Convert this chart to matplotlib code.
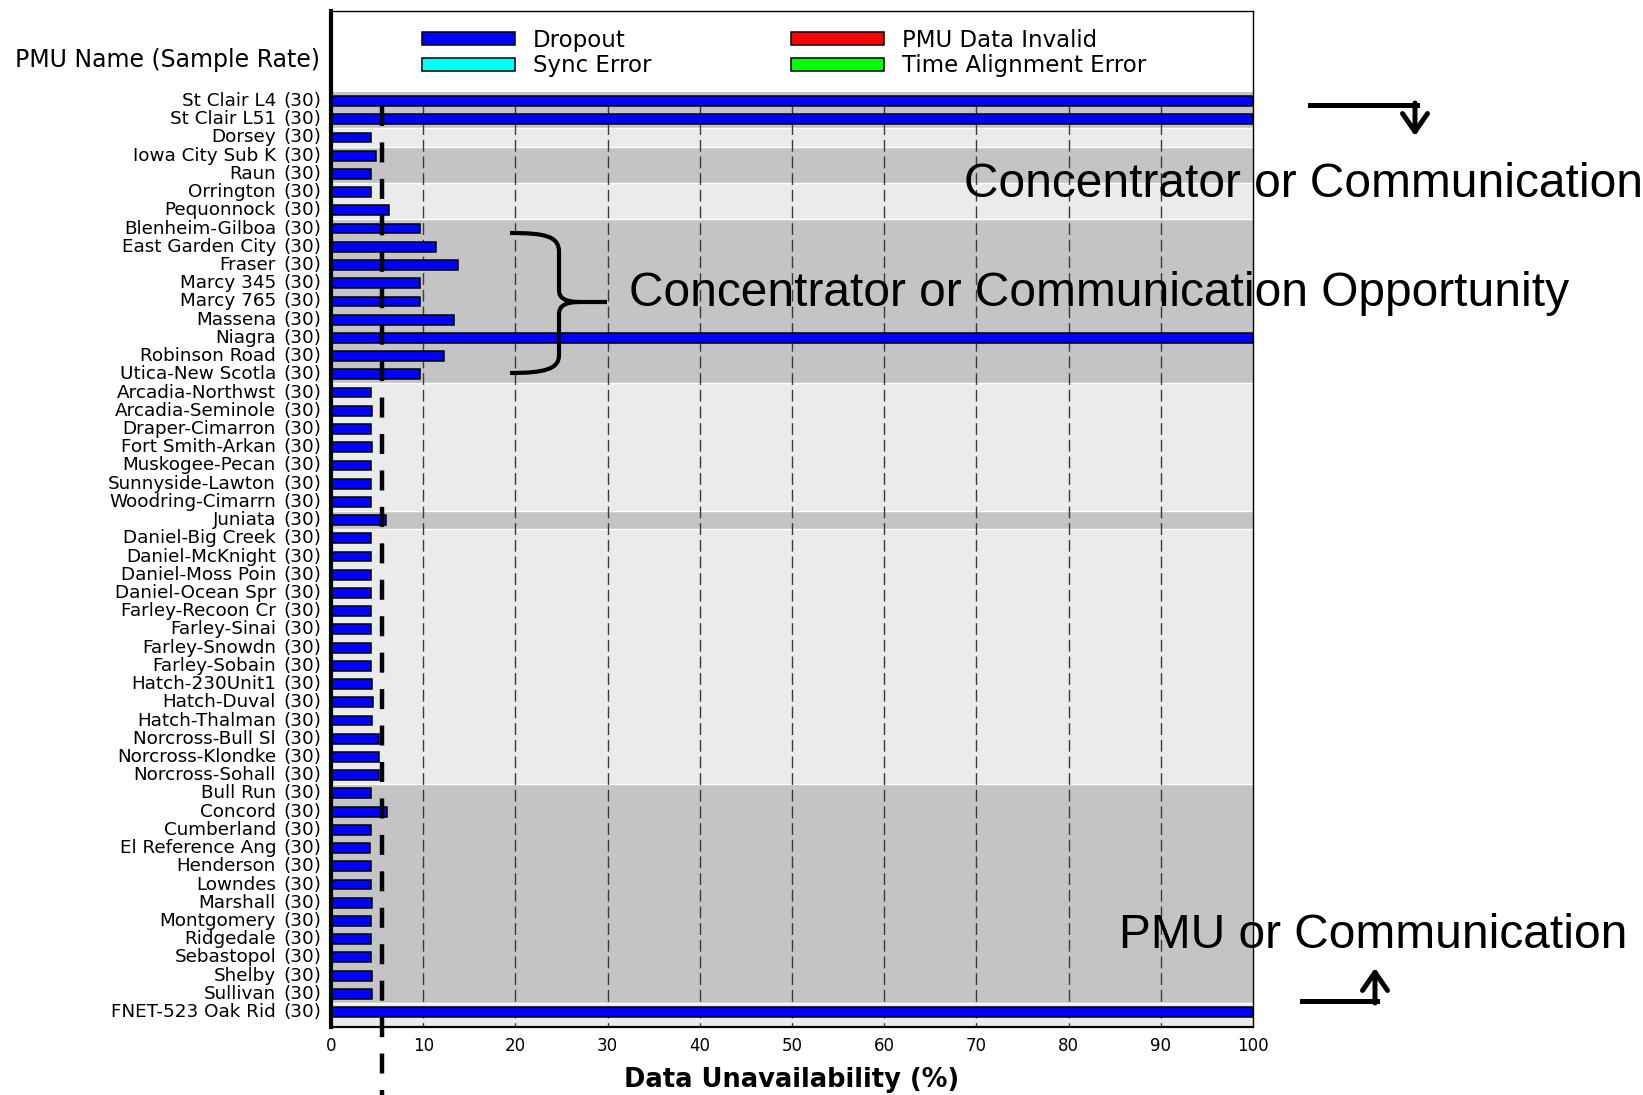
import matplotlib
matplotlib.use("Agg")
import matplotlib.pyplot as plt
import numpy as np
from matplotlib import transforms
from matplotlib.patches import Patch, PathPatch, FancyArrowPatch
from matplotlib.path import Path
from matplotlib.lines import Line2D

W, H = 1643, 1095

names = [
    "St Clair L4", "St Clair L51", "Dorsey", "Iowa City Sub K", "Raun",
    "Orrington", "Pequonnock", "Blenheim-Gilboa", "East Garden City", "Fraser",
    "Marcy 345", "Marcy 765", "Massena", "Niagra", "Robinson Road",
    "Utica-New Scotla", "Arcadia-Northwst", "Arcadia-Seminole", "Draper-Cimarron",
    "Fort Smith-Arkan", "Muskogee-Pecan", "Sunnyside-Lawton", "Woodring-Cimarrn",
    "Juniata", "Daniel-Big Creek", "Daniel-McKnight", "Daniel-Moss Poin",
    "Daniel-Ocean Spr", "Farley-Recoon Cr", "Farley-Sinai", "Farley-Snowdn",
    "Farley-Sobain", "Hatch-230Unit1", "Hatch-Duval", "Hatch-Thalman",
    "Norcross-Bull Sl", "Norcross-Klondke", "Norcross-Sohall", "Bull Run",
    "Concord", "Cumberland", "El Reference Ang", "Henderson", "Lowndes",
    "Marshall", "Montgomery", "Ridgedale", "Sebastopol", "Shelby", "Sullivan",
    "FNET-523 Oak Rid",
]
sample_rate = [30] * len(names)
dropout = [
    100, 100, 4.3, 4.9, 4.3, 4.3, 6.3, 9.6, 11.4, 13.8,
    9.6, 9.6, 13.3, 100, 12.3, 9.6, 4.3, 4.4, 4.3, 4.4,
    4.3, 4.3, 4.3, 6.0, 4.3, 4.3, 4.3, 4.3, 4.3, 4.3,
    4.3, 4.3, 4.4, 4.6, 4.4, 5.2, 5.2, 5.2, 4.3, 6.1,
    4.3, 4.2, 4.3, 4.3, 4.4, 4.3, 4.3, 4.3, 4.4, 4.4,
    100,
]
# consecutive rows sharing a background shade (dark, light, dark, ...)
group_sizes = [2, 1, 2, 2, 9, 7, 1, 14, 12, 1]
threshold = 5.5
xticks = [0, 10, 20, 30, 40, 50, 60, 70, 80, 90, 100]

legend_items = [("Dropout", "#0000ff"), ("Sync Error", "#00ffff"),
                ("PMU Data Invalid", "#ff0000"), ("Time Alignment Error", "#00ff00")]

DARK = "#c4c4c4"
LIGHT = "#ebebeb"


def px(x, y):
    return x / W, 1 - y / H


fig = plt.figure(figsize=(W / 100, H / 100), dpi=100)
ax = fig.add_axes([331 / W, 1 - 1027 / H, (1253 - 331) / W, (1027 - 11) / H])

rows = np.arange(len(names))
y_bottom = len(names) - 1 + 0.82
y_top = -4.94
ax.set_ylim(y_bottom, y_top)
ax.set_xlim(0, 100)

# background bands
start = 0
for i, n in enumerate(group_sizes):
    lo = start - 0.5
    hi = start + n - 0.5 if start + n < len(names) else y_bottom
    ax.axhspan(lo, hi, color=DARK if i % 2 == 0 else LIGHT, zorder=0, lw=0)
    if start > 0:
        ax.axhline(lo, color="white", lw=1.0, zorder=0.5)
    start += n

# grid lines
ax.vlines(xticks[1:-1], 0.25, y_bottom, colors="#3a3a3a", lw=1.0,
          linestyles=[(0, (8.5, 3.5))], zorder=1)

ax.barh(rows, dropout, height=0.54, color="#0000ff", edgecolor="black",
        lw=1.1, zorder=2)

# threshold line, runs past the axis to the bottom of the figure
ax.plot([threshold, threshold], [0.27, y_bottom + 3.8], color="black", lw=3.2,
        dashes=(4.5, 3.7), clip_on=False, zorder=3, solid_capstyle="butt",
        dash_capstyle="butt")

ax.set_xticks(xticks)
ax.set_yticks([])
ax.tick_params(axis="x", length=0, pad=7, labelsize=12)
for s in ("top", "right"):
    ax.spines[s].set_linewidth(1.0)
ax.spines["bottom"].set_linewidth(1.6)
ax.spines["left"].set_linewidth(3.0)
ax.set_xlabel("Data Unavailability (%)", fontsize=18.5, fontweight="bold",
              labelpad=9)

# row labels
tr = transforms.blended_transform_factory(fig.transFigure, ax.transData)
for r, name, rate in zip(rows, names, sample_rate):
    ax.text(276 / W, r, name, transform=tr, ha="right", va="center",
            fontsize=13.2)
    ax.text(283 / W, r, f"({rate})", transform=tr, ha="left", va="center",
            fontsize=13.2)
fig.text(*px(320, 60), "PMU Name (Sample Rate)", ha="right", va="center",
         fontsize=17)

# legend in two columns
handles = [Patch(facecolor=c, edgecolor="black", lw=1.1) for _, c in legend_items]
labels = [l for l, _ in legend_items]
leg_kw = dict(frameon=False, fontsize=16.5, handlelength=4.05, handleheight=0.5,
              handletextpad=0.8, labelspacing=0.1, borderpad=0,
              borderaxespad=0, loc="upper left", bbox_transform=fig.transFigure)
leg1 = ax.legend(handles[:2], labels[:2], bbox_to_anchor=px(422, 29), **leg_kw)
ax.add_artist(leg1)
ax.legend(handles[2:], labels[2:], bbox_to_anchor=px(791, 29), **leg_kw)

# annotations
ann_kw = dict(fontsize=34.5, family="Liberation Sans", va="baseline", ha="left")
fig.text(*px(964, 197), "Concentrator or Communication", **ann_kw)
fig.text(*px(629, 306), "Concentrator or Communication Opportunity", **ann_kw)
fig.text(*px(1119, 948), "PMU or Communication", **ann_kw)

# bent arrows
fig.add_artist(Line2D(*zip(px(1310, 105), px(1417, 105)), color="black", lw=3.6,
                      transform=fig.transFigure))
fig.add_artist(FancyArrowPatch(px(1415, 103), px(1415, 136),
                               transform=fig.transFigure, color="black", lw=3.6,
                               arrowstyle="->,head_length=0.65,head_width=0.45",
                               mutation_scale=20, shrinkA=0, shrinkB=0))
fig.add_artist(Line2D(*zip(px(1302, 1001), px(1377, 1001)), color="black", lw=3.6,
                      transform=fig.transFigure))
fig.add_artist(FancyArrowPatch(px(1375, 1003), px(1375, 968),
                               transform=fig.transFigure, color="black", lw=3.6,
                               arrowstyle="->,head_length=0.65,head_width=0.45",
                               mutation_scale=20, shrinkA=0, shrinkB=0))

# curly brace
brace_pts = [
    (510, 233), (545, 233), (559, 236), (559, 252), (559, 290),
    (559, 298), (565, 302), (580, 302), (607, 302),
    (580, 302), (565, 302), (559, 306), (559, 314), (559, 355),
    (559, 369), (545, 373), (510, 373),
]
codes = [Path.MOVETO, Path.CURVE4, Path.CURVE4, Path.CURVE4, Path.LINETO,
         Path.CURVE4, Path.CURVE4, Path.CURVE4, Path.LINETO,
         Path.MOVETO, Path.CURVE4, Path.CURVE4, Path.CURVE4, Path.LINETO,
         Path.CURVE4, Path.CURVE4, Path.CURVE4]
fig.add_artist(PathPatch(Path([px(*p) for p in brace_pts], codes), fill=False,
                         lw=3.0, edgecolor="black", transform=fig.transFigure))

fig.savefig("out.png", dpi=100)
